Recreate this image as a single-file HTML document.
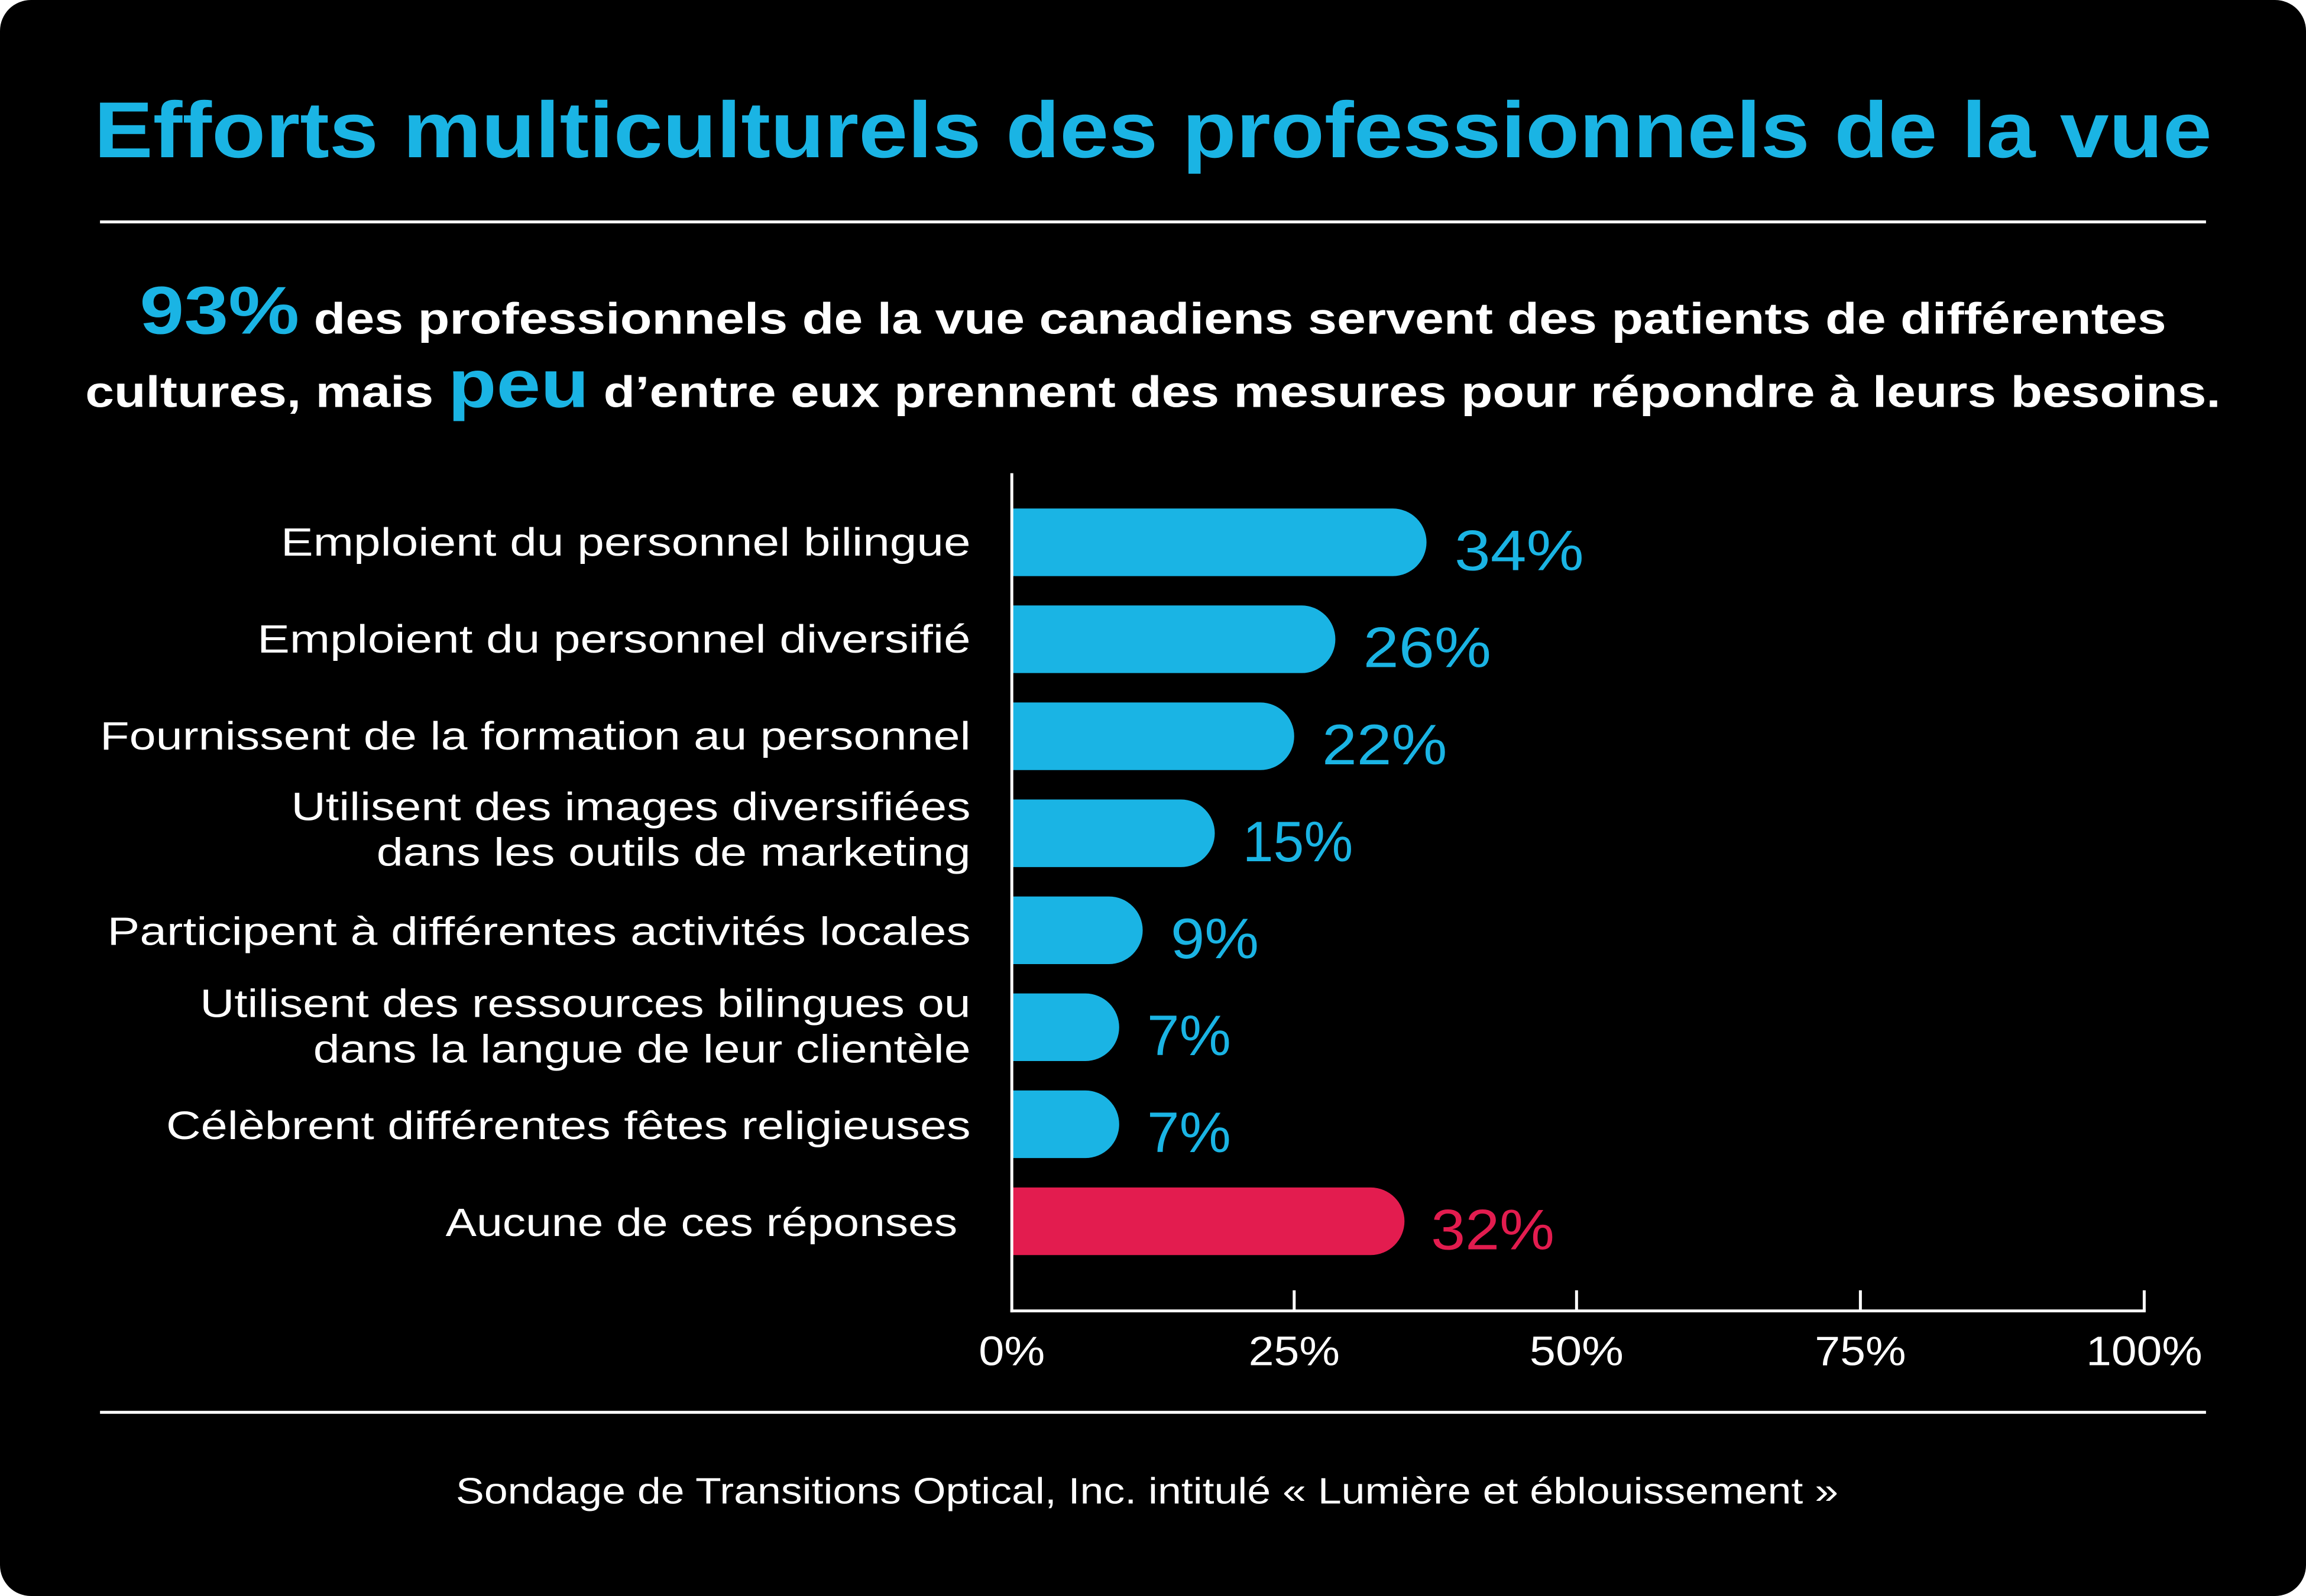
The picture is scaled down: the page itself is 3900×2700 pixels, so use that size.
<!DOCTYPE html>
<html><head><meta charset="utf-8"><style>
html,body{margin:0;padding:0;background:#fff;}
svg{display:block;}
text{font-family:"Liberation Sans",sans-serif;}
</style></head><body>
<svg width="3900" height="2700" viewBox="0 0 1568 1086" preserveAspectRatio="none" xmlns="http://www.w3.org/2000/svg">
<rect x="0" y="0" width="1568" height="1086" rx="21" fill="#000"/>
<text x="784" y="107" text-anchor="middle" font-size="54" font-weight="bold" fill="#1ab4e4" textLength="1440" lengthAdjust="spacingAndGlyphs">Efforts multiculturels des professionnels de la vue</text>
<line x1="68" y1="151" x2="1500" y2="151" stroke="#fff" stroke-width="2"/>
<text x="95" y="227" font-size="30" font-weight="bold" fill="#fff" textLength="1378" lengthAdjust="spacingAndGlyphs"><tspan fill="#1ab4e4" font-size="46">93%</tspan> des professionnels de la vue canadiens servent des patients de différentes</text>
<text x="58" y="277" font-size="30" font-weight="bold" fill="#fff" textLength="1452" lengthAdjust="spacingAndGlyphs">cultures, mais <tspan fill="#1ab4e4" font-size="46">peu</tspan> d’entre eux prennent des mesures pour répondre à leurs besoins.</text>
<g fill="#1ab4e4">
<path d="M688 346H947A23 23 0 0 1 947 392H688Z"/>
<path d="M688 412H885A23 23 0 0 1 885 458H688Z"/>
<path d="M688 478H857A23 23 0 0 1 857 524H688Z"/>
<path d="M688 544H803A23 23 0 0 1 803 590H688Z"/>
<path d="M688 610H754A23 23 0 0 1 754 656H688Z"/>
<path d="M688 676H738A23 23 0 0 1 738 722H688Z"/>
<path d="M688 742H738A23 23 0 0 1 738 788H688Z"/>
</g>
<path d="M688 808H932A23 23 0 0 1 932 854H688Z" fill="#e31c4f"/>
<g font-size="39" fill="#1ab4e4">
<text x="989" y="388" textLength="88" lengthAdjust="spacingAndGlyphs">34%</text>
<text x="927" y="454" textLength="87" lengthAdjust="spacingAndGlyphs">26%</text>
<text x="899" y="520" textLength="85" lengthAdjust="spacingAndGlyphs">22%</text>
<text x="845" y="586" textLength="75" lengthAdjust="spacingAndGlyphs">15%</text>
<text x="796" y="652" textLength="60" lengthAdjust="spacingAndGlyphs">9%</text>
<text x="780" y="718" textLength="57" lengthAdjust="spacingAndGlyphs">7%</text>
<text x="780" y="784" textLength="57" lengthAdjust="spacingAndGlyphs">7%</text>
<text x="973" y="850" fill="#e31c4f" textLength="84" lengthAdjust="spacingAndGlyphs">32%</text>
</g>
<g font-size="27" fill="#fff" text-anchor="end" lengthAdjust="spacingAndGlyphs">
<text x="660" y="378" textLength="469" lengthAdjust="spacingAndGlyphs">Emploient du personnel bilingue</text>
<text x="660" y="444" textLength="485" lengthAdjust="spacingAndGlyphs">Emploient du personnel diversifié</text>
<text x="660" y="510" textLength="592" lengthAdjust="spacingAndGlyphs">Fournissent de la formation au personnel</text>
<text x="660" y="558" textLength="462" lengthAdjust="spacingAndGlyphs">Utilisent des images diversifiées</text>
<text x="660" y="589" textLength="404" lengthAdjust="spacingAndGlyphs">dans les outils de marketing</text>
<text x="660" y="643" textLength="587" lengthAdjust="spacingAndGlyphs">Participent à différentes activités locales</text>
<text x="660" y="692" textLength="524" lengthAdjust="spacingAndGlyphs">Utilisent des ressources bilingues ou</text>
<text x="660" y="723" textLength="447" lengthAdjust="spacingAndGlyphs">dans la langue de leur clientèle</text>
<text x="660" y="775" textLength="547" lengthAdjust="spacingAndGlyphs">Célèbrent différentes fêtes religieuses</text>
<text x="651" y="841" textLength="348" lengthAdjust="spacingAndGlyphs">Aucune de ces réponses</text>
</g>
<g stroke="#fff" stroke-width="2">
<line x1="688" y1="322" x2="688" y2="893"/>
<line x1="687" y1="892" x2="1459" y2="892"/>
<line x1="880" y1="878" x2="880" y2="892"/>
<line x1="1072" y1="878" x2="1072" y2="892"/>
<line x1="1265" y1="878" x2="1265" y2="892"/>
<line x1="1458" y1="878" x2="1458" y2="892"/>
</g>
<g font-size="28" fill="#fff" text-anchor="middle">
<text x="688" y="929" textLength="45" lengthAdjust="spacingAndGlyphs">0%</text>
<text x="880" y="929" textLength="62" lengthAdjust="spacingAndGlyphs">25%</text>
<text x="1072" y="929" textLength="64" lengthAdjust="spacingAndGlyphs">50%</text>
<text x="1265" y="929" textLength="62" lengthAdjust="spacingAndGlyphs">75%</text>
<text x="1458" y="929" textLength="79" lengthAdjust="spacingAndGlyphs">100%</text>
</g>
<line x1="68" y1="961" x2="1500" y2="961" stroke="#fff" stroke-width="2"/>
<text x="780" y="1023" font-size="25" fill="#fff" text-anchor="middle" textLength="940" lengthAdjust="spacingAndGlyphs">Sondage de Transitions Optical, Inc. intitulé « Lumière et éblouissement »</text>
</svg>
</body></html>
